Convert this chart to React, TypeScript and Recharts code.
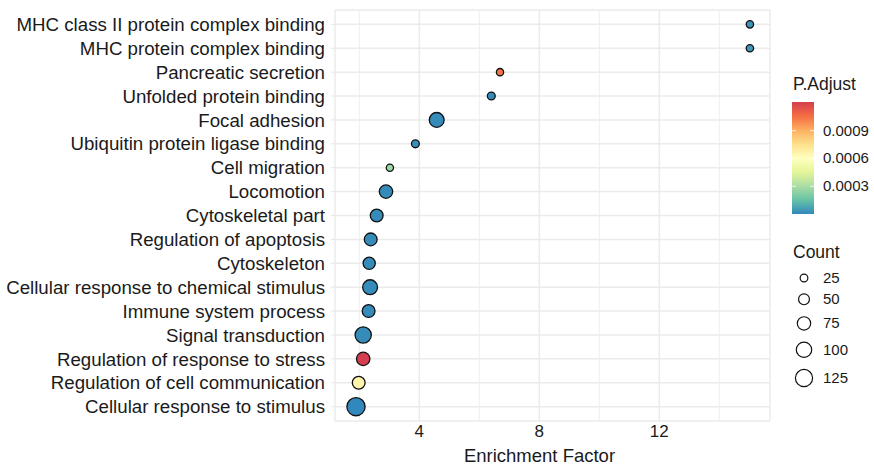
import { ScatterChart, Scatter, XAxis, YAxis, ZAxis, CartesianGrid, Cell, Label } from 'recharts';

const TERMS = [
  'MHC class II protein complex binding',
  'MHC protein complex binding',
  'Pancreatic secretion',
  'Unfolded protein binding',
  'Focal adhesion',
  'Ubiquitin protein ligase binding',
  'Cell migration',
  'Locomotion',
  'Cytoskeletal part',
  'Regulation of apoptosis',
  'Cytoskeleton',
  'Cellular response to chemical stimulus',
  'Immune system process',
  'Signal transduction',
  'Regulation of response to stress',
  'Regulation of cell communication',
  'Cellular response to stimulus',
];

const ENRICHMENT = [15.02, 15.02, 6.69, 6.4, 4.58, 3.87, 3.02, 2.89, 2.58, 2.38, 2.33, 2.36, 2.31, 2.13, 2.13, 1.98, 1.89];
const COUNTS = [23, 23, 22, 26, 93, 26, 22, 76, 69, 69, 63, 93, 69, 111, 76, 69, 140];
const P_ADJUST = [
  0.00003, 0.00004, 0.00104, 0.00001, 0.00001, 0.00002, 0.00027, 0.00001, 0.00001,
  0.00001, 0.00001, 0.00001, 0.00001, 0.00001, 0.00121, 0.00066, 0.0,
];

const X_TICKS = [4, 8, 12];
const X_MINOR = [2, 6, 10, 14];
const P_TICKS = [0.0003, 0.0006, 0.0009];
const COUNT_BREAKS = [25, 50, 75, 100, 125];

// spectral, low -> high
const PALETTE = ['#3288BD', '#66C2A5', '#ABDDA4', '#E6F598', '#FFFFBF', '#FEE08B', '#FDAE61', '#F46D43', '#D53E4F'];
const P_MIN = 0;
const P_MAX = 0.00121;

const Z_DOMAIN: [number, number] = [0, 150];
const Z_RANGE: [number, number] = [0, 279];

const FONT = '"Liberation Sans", Arial, Helvetica, sans-serif';

function hexToRgb(h: string) {
  const n = parseInt(h.slice(1), 16);
  return [(n >> 16) & 255, (n >> 8) & 255, n & 255];
}

function colorFor(p: number) {
  const t = Math.min(1, Math.max(0, (p - P_MIN) / (P_MAX - P_MIN)));
  const pos = t * (PALETTE.length - 1);
  const i = Math.min(PALETTE.length - 2, Math.floor(pos));
  const f = pos - i;
  const a = hexToRgb(PALETTE[i]);
  const b = hexToRgb(PALETTE[i + 1]);
  const c = a.map((v, k) => Math.round(v + (b[k] - v) * f));
  return `rgb(${c[0]},${c[1]},${c[2]})`;
}

const points = TERMS.map((term, i) => ({
  term,
  row: i,
  factor: ENRICHMENT[i],
  count: COUNTS[i],
  p: P_ADJUST[i],
}));

function LegendPanel() {
  const barX = 792;
  const barTop = 102;
  const barH = 112;
  const barW = 22;
  const yFor = (v: number) => barTop + barH - ((v - P_MIN) / (P_MAX - P_MIN)) * barH;
  const radius = (c: number) =>
    Math.sqrt(((c - Z_DOMAIN[0]) / (Z_DOMAIN[1] - Z_DOMAIN[0])) * (Z_RANGE[1] - Z_RANGE[0]) / Math.PI);
  // stack the size keys, each one as tall as its circle
  let cy = 278;
  const keys = COUNT_BREAKS.map((c, i) => {
    const r = radius(c);
    if (i > 0) cy += radius(COUNT_BREAKS[i - 1]) + r + 12;
    return { c, r, cy };
  });
  return (
    <svg width={874} height={465} style={{ position: 'absolute', left: 0, top: 0, pointerEvents: 'none' }}>
      <defs>
        <linearGradient id="padj" x1="0" y1="1" x2="0" y2="0">
          {PALETTE.map((c, i) => (
            <stop key={c} offset={i / (PALETTE.length - 1)} stopColor={c} />
          ))}
        </linearGradient>
      </defs>
      <text x={793} y={90} fontSize={17.5} fontFamily={FONT} fill="#1a1a1a">P.Adjust</text>
      <rect x={barX} y={barTop} width={barW} height={barH} fill="url(#padj)" />
      {P_TICKS.map((v) => (
        <g key={v}>
          <line x1={barX} x2={barX + 4} y1={yFor(v)} y2={yFor(v)} stroke="#fff" strokeWidth={0.8} />
          <line x1={barX + barW - 4} x2={barX + barW} y1={yFor(v)} y2={yFor(v)} stroke="#fff" strokeWidth={0.8} />
          <text x={823} y={yFor(v) + 5} fontSize={15} fontFamily={FONT} fill="#1a1a1a">{v.toFixed(4)}</text>
        </g>
      ))}
      <text x={793} y={258} fontSize={17.5} fontFamily={FONT} fill="#1a1a1a">Count</text>
      {keys.map((k) => (
        <g key={k.c}>
          <circle cx={804} cy={k.cy} r={k.r} fill="none" stroke="#111" strokeWidth={1.2} />
          <text x={823} y={k.cy + 5} fontSize={15} fontFamily={FONT} fill="#1a1a1a">{k.c}</text>
        </g>
      ))}
    </svg>
  );
}

export default function App() {
  return (
    <div style={{ position: 'absolute', left: 0, top: 0, width: 874, height: 465, background: '#fff', fontFamily: FONT }}>
      <ScatterChart width={874} height={465} margin={{ top: 10, right: 104, bottom: 0, left: 0 }}>
        <CartesianGrid horizontal={false} stroke="#ebebeb" strokeWidth={0.8} verticalValues={X_MINOR} />
        <CartesianGrid stroke="#ebebeb" strokeWidth={1.5} />
        <XAxis
          type="number"
          dataKey="factor"
          domain={[1.19, 15.69]}
          allowDataOverflow
          ticks={X_TICKS}
          axisLine={false}
          tickLine={false}
          tickSize={3}
          tickMargin={1}
          height={44}
          tick={{ fontSize: 17, fill: '#1a1a1a', fontFamily: FONT }}
        >
          <Label value="Enrichment Factor" position="insideBottom" offset={3} dx={-13} fontSize={18.5} fill="#1a1a1a" fontFamily={FONT} />
        </XAxis>
        <YAxis
          type="number"
          dataKey="row"
          reversed
          domain={[-0.6, 16.6]}
          allowDataOverflow
          ticks={TERMS.map((_, i) => i)}
          interval={0}
          tickFormatter={(i: number) => TERMS[i]}
          width={335}
          axisLine={false}
          tickLine={{ stroke: '#e6e6e6' }}
          tickSize={4}
          tickMargin={6}
          tick={{ fontSize: 18.7, fill: '#1a1a1a', fontFamily: FONT }}
        />
        <ZAxis type="number" dataKey="count" domain={Z_DOMAIN} range={Z_RANGE} />
        <Scatter data={points} stroke="#111" strokeWidth={1.3} isAnimationActive={false}>
          {points.map((d) => (
            <Cell key={d.term} fill={colorFor(d.p)} />
          ))}
        </Scatter>
      </ScatterChart>
      <LegendPanel />
    </div>
  );
}
